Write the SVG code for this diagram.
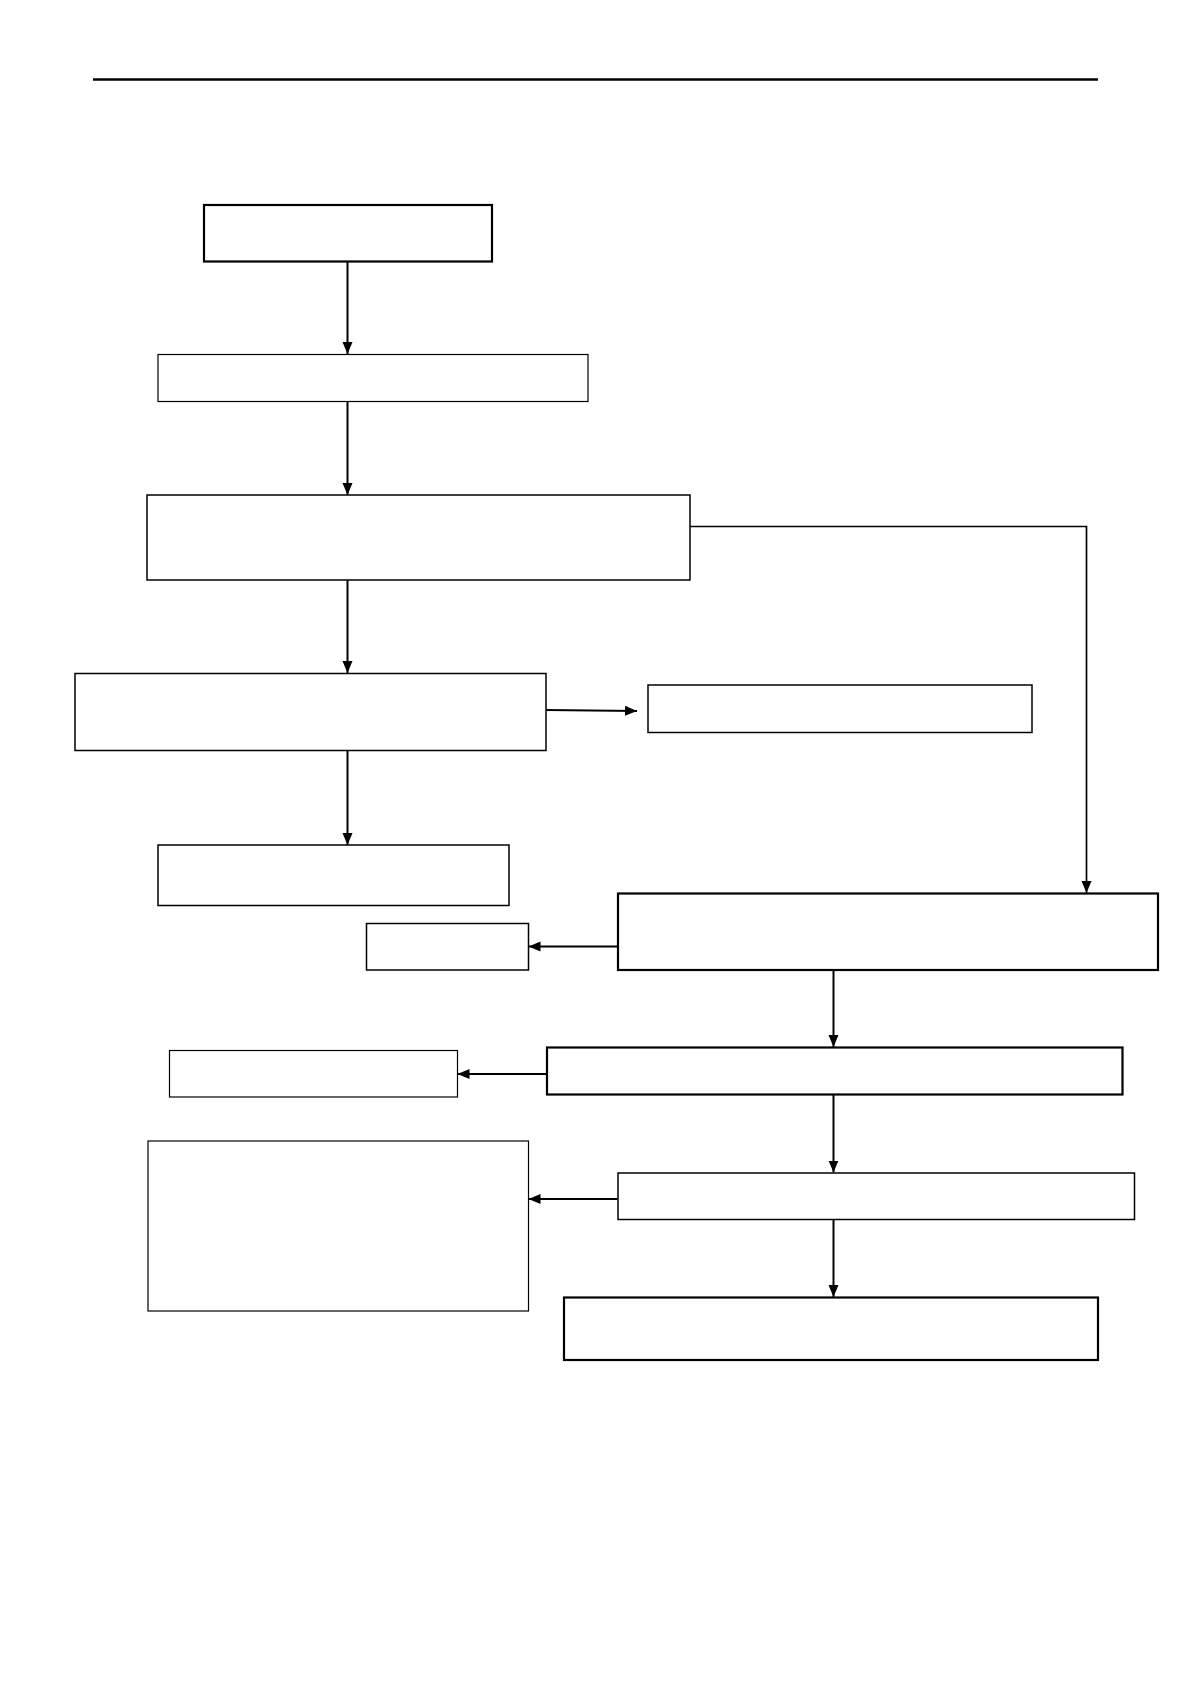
<svg xmlns="http://www.w3.org/2000/svg" width="1191" height="1684" viewBox="0 0 1191 1684">
<style>
.box{fill:#fff;stroke:#000;stroke-width:1.5}
.thick{stroke-width:2.2}
.thin{stroke-width:1.2}
.conn{fill:none;stroke:#000;stroke-width:2}
</style>
<defs>
<marker id="arr" markerUnits="userSpaceOnUse" markerWidth="14" markerHeight="14" viewBox="0 0 14 14" refX="12" refY="7" orient="auto">
<path d="M0,2 L12,7 L0,12 Z" fill="#000"/>
</marker>
</defs>
<rect width="1191" height="1684" fill="#fff"/>
<line x1="93" y1="79.5" x2="1098" y2="79.5" stroke="#000" stroke-width="2.5"/>
<g id="connectors">
<line class="conn" x1="347.5" y1="262" x2="347.5" y2="354" marker-end="url(#arr)"/>
<line class="conn" x1="347.5" y1="402" x2="347.5" y2="495" marker-end="url(#arr)"/>
<line class="conn" x1="347.5" y1="580" x2="347.5" y2="673" marker-end="url(#arr)"/>
<line class="conn" x1="347.5" y1="751" x2="347.5" y2="845" marker-end="url(#arr)"/>
<polyline class="conn" points="690,526.5 1086.5,526.5 1086.5,893" marker-end="url(#arr)" style="stroke-width:1.7"/>
<line class="conn" x1="546" y1="710" x2="637" y2="711" marker-end="url(#arr)"/>
<line class="conn" x1="617.5" y1="946.5" x2="528.5" y2="946.5" marker-end="url(#arr)"/>
<line class="conn" x1="833.5" y1="970" x2="833.5" y2="1047" marker-end="url(#arr)"/>
<line class="conn" x1="546.5" y1="1074" x2="457.5" y2="1074" marker-end="url(#arr)"/>
<line class="conn" x1="833.5" y1="1095" x2="833.5" y2="1172.5" marker-end="url(#arr)"/>
<line class="conn" x1="617.5" y1="1199" x2="528.5" y2="1199" marker-end="url(#arr)"/>
<line class="conn" x1="833.5" y1="1219" x2="833.5" y2="1297" marker-end="url(#arr)"/>
</g>
<g id="n1"><rect class="box thick" x="204" y="205" width="288" height="56.5"/></g>
<g id="n2"><rect class="box thin" x="158" y="354.5" width="430" height="47"/></g>
<g id="n3"><rect class="box" x="147" y="495" width="543" height="85"/></g>
<g id="n4"><rect class="box" x="75" y="673.5" width="471" height="77"/></g>
<g id="n5"><rect class="box" x="648" y="685" width="384" height="47.5"/></g>
<g id="n6"><rect class="box" x="158" y="845" width="351" height="60.5"/></g>
<g id="n7"><rect class="box thick" x="618" y="893.5" width="540" height="76.5"/></g>
<g id="n8"><rect class="box" x="366.5" y="923.5" width="162" height="46.5"/></g>
<g id="n9"><rect class="box thick" x="547" y="1047.5" width="575.5" height="47"/></g>
<g id="n10"><rect class="box thin" x="169.5" y="1050.5" width="288" height="46.5"/></g>
<g id="n11"><rect class="box" x="618" y="1173" width="516.5" height="46.5"/></g>
<g id="n12"><rect class="box thin" x="148" y="1141" width="380.5" height="170"/></g>
<g id="n13"><rect class="box thick" x="564" y="1297.5" width="534" height="62.5"/></g>
</svg>
